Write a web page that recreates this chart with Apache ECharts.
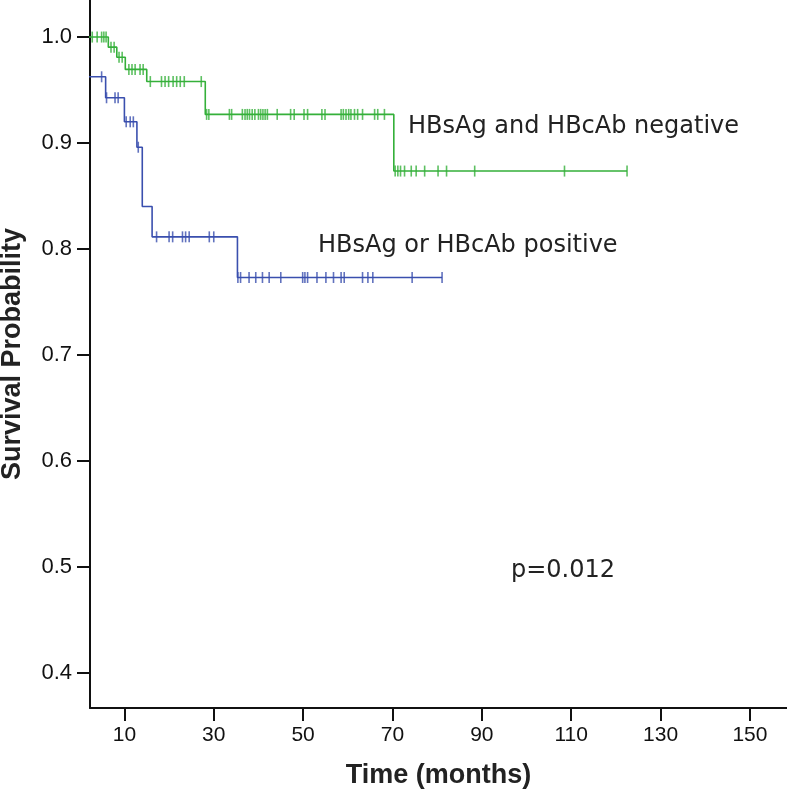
<!DOCTYPE html>
<html>
<head>
<meta charset="utf-8">
<script src="https://cdn.jsdelivr.net/npm/echarts@6/dist/echarts.min.js"></script>
<style>html,body{margin:0;padding:0;background:#fff}#c{width:787px;height:789px}</style>
</head>
<body>
<div id="c"></div>
<script>
// ---- data (months, survival probability) ----
const xTicks = [10, 30, 50, 70, 90, 110, 130, 150];
const yTicks = [0.4, 0.5, 0.6, 0.7, 0.8, 0.9, 1.0];

// HBsAg and HBcAb negative
const negEventTimes = [6.4, 8.3, 10.2, 15.0, 28.1, 70.3];
const negLevels = [1.0, 0.9905, 0.981, 0.9695, 0.958, 0.927, 0.8735];
const negCensored = [2.8, 3.9, 4.9, 5.4, 5.9, 7.0, 7.7, 8.8, 9.5, 11.0, 11.7, 12.4, 13.5, 14.2,
  15.8, 18.3, 19.1, 19.9, 20.9, 21.7, 22.5, 23.4, 27.2,
  28.4, 28.9, 33.5, 34.0, 36.4, 37.0, 37.5, 38.0, 38.6, 39.2, 40.0, 40.5, 41.0, 41.5, 42.0,
  44.2, 47.2, 48.0, 50.2, 51.0, 54.2, 54.9, 58.5, 59.0, 59.6, 60.2, 60.7, 61.5, 62.2, 63.3,
  66.0, 66.7, 68.2,
  70.6, 71.2, 71.8, 72.7, 74.2, 75.3, 77.2, 80.2, 82.1, 88.4, 108.5, 122.5];
const negEnd = 122.5;

// HBsAg or HBcAb positive
const posEventTimes = [5.8, 10.0, 12.8, 14.0, 16.2, 35.3];
const posLevels = [0.9625, 0.9427, 0.920, 0.896, 0.840, 0.8114, 0.773];
const posCensored = [4.9, 6.0, 7.9, 8.6, 10.4, 11.3, 12.0, 13.1,
  17.2, 20.0, 20.8, 23.0, 23.7, 24.5, 29.0, 30.0,
  35.4, 36.0, 37.9, 39.4, 40.9, 42.4, 45.0, 49.9, 50.4, 51.0, 53.1, 55.1, 56.8, 58.5, 59.2,
  63.3, 64.5, 65.6, 74.4, 81.1];
const posEnd = 81.1;

const labels = {
  neg: 'HBsAg and HBcAb negative',
  pos: 'HBsAg or HBcAb positive',
  p: 'p=0.012'
};

// ---- helpers ----
function stepLine(times, levels, end) {
  const pts = [[0, levels[0]]];
  times.forEach((t, i) => pts.push([t, levels[i + 1]]));
  pts.push([end, levels[levels.length - 1]]);
  return pts;
}
function levelAt(t, times, levels) {
  let s = levels[0];
  times.forEach((et, i) => { if (et <= t) s = levels[i + 1]; });
  return s;
}
function censorPts(cens, times, levels) {
  return cens.map(t => [t, levelAt(t, times, levels)]);
}

const GREEN = '#35b03a';
const BLUE = '#3a4fae';
const AX = '#111';

const chart = echarts.init(document.getElementById('c'), null, {renderer: 'canvas'});
chart.setOption({
  animation: false,
  backgroundColor: '#fff',
  grid: {left: 90, right: 0, top: 0, bottom: 81, containLabel: false, outerBoundsMode: 'none'},
  xAxis: {
    type: 'value', min: 2.3, max: 158.3,
    name: 'Time (months)', nameLocation: 'middle', nameGap: 54,
    nameTextStyle: {fontFamily: 'Liberation Sans', fontWeight: 'bold', fontSize: 27, color: '#222'},
    axisLine: {show: true, lineStyle: {color: AX, width: 2}},
    axisTick: {show: true, length: 13, lineStyle: {color: AX, width: 2}, customValues: xTicks},
    axisLabel: {customValues: xTicks, margin: 17, fontFamily: 'Liberation Sans', fontSize: 21, color: AX},
    splitLine: {show: false}
  },
  yAxis: {
    type: 'value', min: 0.3666, max: 1.035,
    name: 'Survival Probability', nameLocation: 'middle', nameGap: 64,
    nameTextStyle: {fontFamily: 'Liberation Sans', fontWeight: 'bold', fontSize: 27, color: '#222'},
    axisLine: {show: true, lineStyle: {color: AX, width: 2}},
    axisTick: {show: true, length: 13, lineStyle: {color: AX, width: 2}, customValues: yTicks},
    axisLabel: {customValues: yTicks, margin: 18, fontFamily: 'Liberation Sans', fontSize: 22, color: AX,
      formatter: v => v.toFixed(1)},
    splitLine: {show: false}
  },
  series: [
    {type: 'line', step: 'end', data: stepLine(negEventTimes, negLevels, negEnd), showSymbol: false,
     lineStyle: {color: GREEN, width: 1.6}, clip: true, z: 3},
    {type: 'scatter', data: censorPts(negCensored, negEventTimes, negLevels), symbol: 'rect',
     symbolSize: [1.6, 11], itemStyle: {color: GREEN}, z: 4},
    {type: 'line', step: 'end', data: stepLine(posEventTimes, posLevels, posEnd), showSymbol: false,
     lineStyle: {color: BLUE, width: 1.6}, clip: true, z: 3},
    {type: 'scatter', data: censorPts(posCensored, posEventTimes, posLevels), symbol: 'rect',
     symbolSize: [1.6, 11], itemStyle: {color: BLUE}, z: 4}
  ],
  graphic: [
    {type: 'text', x: 408, y: 127, style: {text: labels.neg, font: '24px "DejaVu Sans"', fill: '#222', verticalAlign: 'middle'}},
    {type: 'text', x: 318, y: 246, style: {text: labels.pos, font: '24px "DejaVu Sans"', fill: '#222', verticalAlign: 'middle'}},
    {type: 'text', x: 511, y: 571, style: {text: labels.p, font: '24px "DejaVu Sans"', fill: '#222', verticalAlign: 'middle'}}
  ]
});
</script>
</body>
</html>
